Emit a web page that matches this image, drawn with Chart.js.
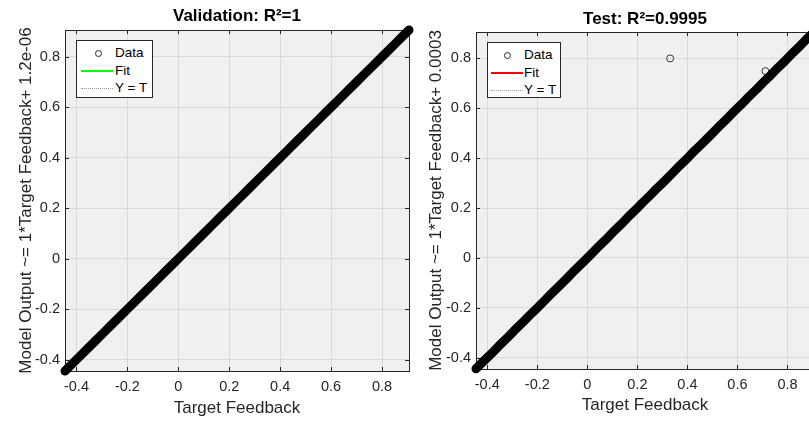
<!DOCTYPE html>
<html>
<head>
<meta charset="utf-8">
<script src="https://cdn.jsdelivr.net/npm/chart.js@4.4.1/dist/chart.umd.min.js"></script>
<style>
  html, body { margin: 0; padding: 0; background: #fff; overflow: hidden; }
  #wrap { position: relative; width: 809px; height: 421px; overflow: hidden; }
  canvas { position: absolute; top: 0; }
  .legend { position: absolute; background: #fff; border: 1px solid #262626; box-sizing: border-box;
            font-family: "Liberation Sans", Arial, sans-serif; font-size: 13.5px; color: #000; }
  .row { position: absolute; left: 0; right: 0; height: 16px; line-height: 16px; }
  .row span { position: absolute; top: 0; }
  .ico { position: absolute; }
</style>
</head>
<body>
<div id="wrap">
  <canvas id="valChart" width="420" height="421" style="left:0px"></canvas>
  <canvas id="testChart" width="420" height="421" style="left:410px"></canvas>
  <div id="valLegend" class="legend" style="left:76px; top:40px; width:77px; height:58px"></div>
  <div id="testLegend" class="legend" style="left:487px; top:42px; width:74px; height:56px"></div>
</div>
<script>
// axis ticks (same on both plots)
const tickValues = [-0.4, -0.2, 0, 0.2, 0.4, 0.6, 0.8];
const tickLabels = ["-0.4", "-0.2", "0", "0.2", "0.4", "0.6", "0.8"];
const axisLimits = [-0.445, 0.906];

// validation set
const valTarget = [-0.445, -0.414, -0.386, -0.352, -0.323, -0.291, -0.262, -0.233, -0.201, -0.172,
  -0.140, -0.111, -0.080, -0.049, -0.021, 0.010, 0.041, 0.069, 0.101, 0.130, 0.162, 0.191, 0.222,
  0.250, 0.281, 0.312, 0.341, 0.373, 0.402, 0.431, 0.463, 0.492, 0.523, 0.551, 0.582, 0.613, 0.642,
  0.674, 0.703, 0.732, 0.764, 0.793, 0.824, 0.852, 0.883, 0.906];
const valOutput = [-0.445, -0.414, -0.386, -0.352, -0.323, -0.291, -0.262, -0.233, -0.201, -0.172,
  -0.140, -0.111, -0.080, -0.049, -0.021, 0.010, 0.041, 0.069, 0.101, 0.130, 0.162, 0.191, 0.222,
  0.250, 0.281, 0.312, 0.341, 0.373, 0.402, 0.431, 0.463, 0.492, 0.523, 0.551, 0.582, 0.613, 0.642,
  0.674, 0.703, 0.732, 0.764, 0.793, 0.824, 0.852, 0.883, 0.906];
const valFitX = [-0.445, 0.906];
const valFitY = [-0.445, 0.906];

// test set
const testTarget = [-0.445, -0.417, -0.384, -0.355, -0.321, -0.293, -0.259, -0.231, -0.203, -0.170,
  -0.142, -0.109, -0.078, -0.051, -0.019, 0.012, 0.039, 0.071, 0.099, 0.132, 0.160, 0.193, 0.220,
  0.252, 0.279, 0.310, 0.343, 0.371, 0.404, 0.429, 0.461, 0.494, 0.521, 0.553, 0.580, 0.615, 0.640,
  0.676, 0.701, 0.734, 0.762, 0.795, 0.822, 0.854, 0.881, 0.906];
const testOutput = [-0.444, -0.416, -0.384, -0.354, -0.321, -0.292, -0.259, -0.230, -0.203, -0.170,
  -0.141, -0.109, -0.078, -0.050, -0.019, 0.012, 0.040, 0.071, 0.100, 0.132, 0.161, 0.193, 0.221,
  0.252, 0.280, 0.310, 0.343, 0.372, 0.404, 0.430, 0.461, 0.494, 0.522, 0.553, 0.581, 0.615, 0.641,
  0.676, 0.702, 0.734, 0.763, 0.795, 0.823, 0.854, 0.882, 0.906];
const testOddTarget = [0.331, 0.712];
const testOddOutput = [0.800, 0.749];
const testFitX = [-0.445, 0.906];
const testFitY = [-0.4447, 0.9063];

const identity = [-0.445, 0.906];
const legendLabels = ["Data", "Fit", "Y = T"];

Chart.defaults.font.family = '"Liberation Sans", Arial, sans-serif';

function zip(xs, ys) {
  return xs.map((x, i) => ({ x: x, y: ys[i] }));
}

// grey axes background, box, inward tick marks and a title centred on the axes
const axesBox = {
  id: "axesBox",
  beforeDraw(chart, args, opts) {
    const { ctx, chartArea: a } = chart;
    ctx.save();
    ctx.fillStyle = "#f0f0f0";
    ctx.fillRect(a.left, a.top, a.right - a.left, a.bottom - a.top);
    ctx.restore();
  },
  beforeDatasetsDraw(chart) {
    const { ctx, chartArea: a, scales } = chart;
    ctx.save();
    ctx.strokeStyle = "#262626";
    ctx.lineWidth = 1;
    ctx.beginPath();
    tickValues.forEach(v => {
      const px = Math.round(scales.x.getPixelForValue(v)) + 0.5;
      ctx.moveTo(px, a.bottom); ctx.lineTo(px, a.bottom - 4);
      ctx.moveTo(px, a.top); ctx.lineTo(px, a.top + 4);
      const py = Math.round(scales.y.getPixelForValue(v)) + 0.5;
      ctx.moveTo(a.left, py); ctx.lineTo(a.left + 4, py);
      ctx.moveTo(a.right, py); ctx.lineTo(a.right - 4, py);
    });
    ctx.stroke();
    ctx.strokeRect(Math.round(a.left) + 0.5, Math.round(a.top) + 0.5,
      Math.round(a.right - a.left), Math.round(a.bottom - a.top));
    ctx.restore();
  },
  afterDraw(chart, args, opts) {
    const { ctx, chartArea: a } = chart;
    ctx.save();
    ctx.font = 'bold 17px "Liberation Sans", Arial, sans-serif';
    ctx.fillStyle = "#000";
    ctx.textAlign = "center";
    ctx.textBaseline = "middle";
    ctx.fillText(opts.text, (a.left + a.right) / 2, opts.y);
    ctx.restore();
  }
};

function makeChart(id, c) {
  const tickFont = { size: 14.5 };
  return new Chart(document.getElementById(id), {
    type: "scatter",
    data: {
      datasets: [
        { label: "Data", data: zip(c.target, c.output), showLine: true,
          borderColor: "#000", borderWidth: 9, borderCapStyle: "round", borderJoinStyle: "round",
          pointRadius: 3, pointBorderWidth: 1, pointBorderColor: "#000", pointBackgroundColor: "#000",
          clip: false, order: 1 },
        { label: "Data", data: zip(c.oddTarget, c.oddOutput), showLine: false,
          pointRadius: 3.5, pointBorderWidth: 1, pointBorderColor: "#333", pointBackgroundColor: "rgba(0,0,0,0)", order: 1 },
        { label: "Fit", data: zip(c.fitX, c.fitY), showLine: true,
          borderColor: c.fitColor, borderWidth: 2, pointRadius: 0, order: 2 },
        { label: "Y = T", data: zip(identity, identity), showLine: true,
          borderColor: "#999", borderWidth: 1, borderDash: [1, 2], pointRadius: 0, order: 3 }
      ]
    },
    options: {
      responsive: false,
      animation: false,
      devicePixelRatio: 1,
      layout: { padding: { left: 0, right: c.padRight, top: c.top, bottom: 0 } },
      plugins: {
        legend: { display: false },
        tooltip: { enabled: false },
        title: { display: false },
        axesBox: { text: c.title, y: c.titleY }
      },
      scales: {
        x: {
          type: "linear", min: axisLimits[0], max: axisLimits[1],
          afterBuildTicks: s => { s.ticks = tickValues.map(v => ({ value: v })); },
          afterFit: s => { s.height = c.xHeight; },
          ticks: { callback: (v, i) => tickLabels[i], color: "#262626", font: tickFont,
            padding: c.xTickPad, maxRotation: 0, autoSkip: false },
          grid: { color: "#d9d9d9", drawTicks: false },
          border: { display: false },
          title: { display: true, text: "Target Feedback", color: "#262626",
            font: { size: 17 }, padding: { top: 0, bottom: c.xTitlePad } }
        },
        y: {
          type: "linear", min: axisLimits[0], max: axisLimits[1],
          afterBuildTicks: s => { s.ticks = tickValues.map(v => ({ value: v })); },
          afterFit: s => { s.width = c.yWidth; },
          ticks: { callback: (v, i) => tickLabels[i], color: "#262626", font: tickFont,
            padding: 5, autoSkip: false },
          grid: { color: "#d9d9d9", drawTicks: false },
          border: { display: false },
          title: { display: true, text: c.yTitle, color: "#262626",
            font: { size: 17 }, padding: { top: 16, bottom: 0 } }
        }
      }
    },
    plugins: [axesBox]
  });
}

makeChart("valChart", {
  target: valTarget, output: valOutput, oddTarget: [], oddOutput: [],
  fitX: valFitX, fitY: valFitY, fitColor: "#00ff00",
  title: "Validation: R²=1", titleY: 16,
  yTitle: "Model Output ~= 1*Target Feedback+ 1.2e-06",
  padRight: 11, top: 30,
  xHeight: 50, xTickPad: 7, xTitlePad: 2, yWidth: 65
});

makeChart("testChart", {
  target: testTarget, output: testOutput, oddTarget: testOddTarget, oddOutput: testOddOutput,
  fitX: testFitX, fitY: testFitY, fitColor: "#ff0000",
  title: "Test: R²=0.9995", titleY: 19,
  yTitle: "Model Output ~= 1*Target Feedback+ 0.0003",
  padRight: 16, top: 32,
  xHeight: 52, xTickPad: 7.5, xTitlePad: 5, yWidth: 66
});

// matlab style legend boxes inside the axes
function buildLegend(id, fitColor, o) {
  const box = document.getElementById(id);
  const rowsY = [4, 21.5, 38.5];
  legendLabels.forEach((lab, i) => {
    const row = document.createElement("div");
    row.className = "row";
    row.style.top = rowsY[i] + "px";
    const ico = document.createElement("div");
    ico.className = "ico";
    if (i === 0) {
      Object.assign(ico.style, { left: (o.circle - 3.5) + "px", top: "4.5px", width: "5px", height: "5px",
        border: "1px solid #262626", borderRadius: "50%" });
    } else if (i === 1) {
      Object.assign(ico.style, { left: o.line0 + "px", top: "7px", width: (o.line1 - o.line0) + "px",
        height: "2.5px", background: fitColor });
    } else {
      Object.assign(ico.style, { left: o.line0 + "px", top: "8px", width: (o.line1 - o.line0) + "px",
        height: "0px", borderTop: "1px dotted #9a9a9a" });
    }
    const txt = document.createElement("span");
    txt.style.left = o.text + "px";
    txt.textContent = lab;
    row.appendChild(ico);
    row.appendChild(txt);
    box.appendChild(row);
  });
}

buildLegend("valLegend", "#00ff00", { circle: 21, line0: 4, line1: 36, text: 38 });
buildLegend("testLegend", "#ff0000", { circle: 19, line0: 3, line1: 35, text: 36 });
</script>
</body>
</html>
